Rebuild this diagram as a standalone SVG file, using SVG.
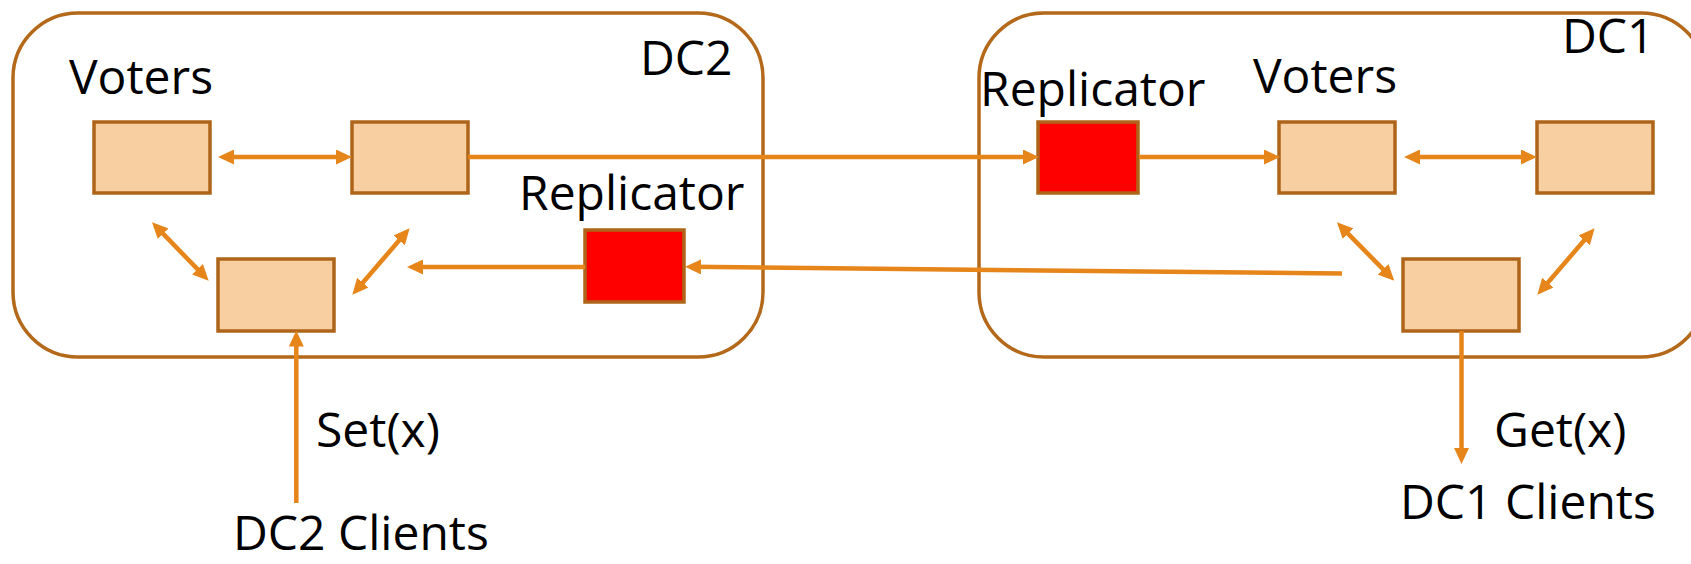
<svg xmlns="http://www.w3.org/2000/svg" width="1691" height="564" viewBox="0 0 1691 564">
  <style>
    .dc { fill: #ffffff; stroke: #B3681A; stroke-width: 3.5; }
    .voter { fill: #F7CFA0; stroke: #AE6519; stroke-width: 3.5; }
    .repl { fill: #FF0000; stroke: #AE6519; stroke-width: 3.5; }
    .conn { fill: none; stroke: #E6851A; stroke-width: 4.5; }
    .lbl { font-family: "Open Sans", "Noto Sans", "DejaVu Sans", sans-serif; font-size: 48px; fill: #000000; }
  </style>
  <defs>
    <marker id="head" markerUnits="userSpaceOnUse" markerWidth="16" markerHeight="15" refX="10" refY="7.5" orient="auto-start-reverse">
      <path d="M0,0 L16,7.5 L0,15 z" fill="#E6851A"/>
    </marker>
  </defs>

  <!-- data centre containers -->
  <g id="dc2">
    <rect class="dc" x="13" y="13" width="750" height="344" rx="65" ry="65"/>
    <text class="lbl" x="640" y="75">DC2</text>
  </g>
  <g id="dc1">
    <rect class="dc" x="979" y="13" width="727" height="344" rx="65" ry="65"/>
    <text class="lbl" x="1562" y="53">DC1</text>
  </g>

  <!-- DC2 nodes -->
  <g id="dc2-voters-label">
    <text class="lbl" x="69" y="94">Voters</text>
  </g>
  <g id="dc2-voter-a">
    <rect class="voter" x="94" y="122" width="116" height="71"/>
  </g>
  <g id="dc2-voter-b">
    <rect class="voter" x="352" y="122" width="116" height="71"/>
  </g>
  <g id="dc2-voter-c">
    <rect class="voter" x="218" y="259" width="116" height="72"/>
  </g>
  <g id="dc2-replicator">
    <text class="lbl" x="519" y="210">Replicator</text>
    <rect class="repl" x="585" y="230" width="99" height="72"/>
  </g>

  <!-- DC1 nodes -->
  <g id="dc1-replicator">
    <text class="lbl" x="980" y="106">Replicator</text>
    <rect class="repl" x="1038" y="122" width="100" height="71"/>
  </g>
  <g id="dc1-voters-label">
    <text class="lbl" x="1253" y="93">Voters</text>
  </g>
  <g id="dc1-voter-a">
    <rect class="voter" x="1279" y="122" width="116" height="71"/>
  </g>
  <g id="dc1-voter-b">
    <rect class="voter" x="1537" y="122" width="116" height="71"/>
  </g>
  <g id="dc1-voter-c">
    <rect class="voter" x="1403" y="259" width="116" height="72"/>
  </g>

  <!-- clients -->
  <g id="dc2-clients">
    <text class="lbl" x="316" y="447">Set(x)</text>
    <text class="lbl" x="233" y="550">DC2 Clients</text>
  </g>
  <g id="dc1-clients">
    <text class="lbl" x="1494" y="447">Get(x)</text>
    <text class="lbl" x="1400" y="519">DC1 Clients</text>
  </g>

  <!-- connectors -->
  <g id="connectors">
    <line class="conn" x1="224" y1="157" x2="346" y2="157" marker-start="url(#head)" marker-end="url(#head)"/>
    <line class="conn" x1="156.2" y1="226.6" x2="204.5" y2="276.4" marker-start="url(#head)" marker-end="url(#head)"/>
    <line class="conn" x1="405.7" y1="232.8" x2="356.3" y2="290.2" marker-start="url(#head)" marker-end="url(#head)"/>
    <line class="conn" x1="468" y1="157" x2="1033" y2="157" marker-end="url(#head)"/>
    <line class="conn" x1="585" y1="267" x2="413" y2="267" marker-end="url(#head)"/>
    <line class="conn" x1="1342" y1="273.5" x2="691" y2="266.8" marker-end="url(#head)"/>
    <line class="conn" x1="1139" y1="157" x2="1274" y2="157" marker-end="url(#head)"/>
    <line class="conn" x1="1410" y1="157" x2="1531" y2="157" marker-start="url(#head)" marker-end="url(#head)"/>
    <line class="conn" x1="1341.1" y1="226.6" x2="1390.1" y2="276.4" marker-start="url(#head)" marker-end="url(#head)"/>
    <line class="conn" x1="1590.7" y1="232.8" x2="1541.3" y2="290.2" marker-start="url(#head)" marker-end="url(#head)"/>
    <line class="conn" x1="1461.5" y1="331" x2="1461.5" y2="458" marker-end="url(#head)"/>
    <line class="conn" x1="296.3" y1="503" x2="296.3" y2="336.5" marker-end="url(#head)"/>
  </g>
</svg>
